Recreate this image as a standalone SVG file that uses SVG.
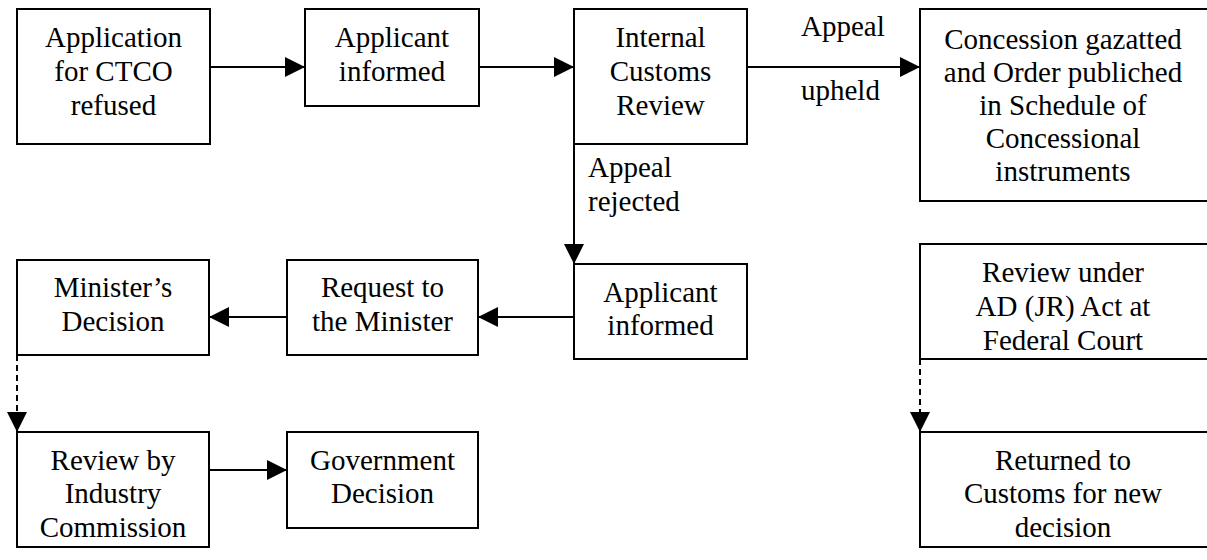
<svg xmlns="http://www.w3.org/2000/svg" width="1207" height="560" viewBox="0 0 1207 560">
<style>
.box{fill:#fff;stroke:#000;stroke-width:2}
text{font-family:'Liberation Serif','Times New Roman',Tinos,'DejaVu Serif',serif;font-size:29px;fill:#000}
.t{text-anchor:middle}
.c{fill:none;stroke:#000;stroke-width:2}
.d{stroke-dasharray:6 4}
</style>
<defs>
<marker id="ah" markerUnits="userSpaceOnUse" markerWidth="21" markerHeight="20" refX="20" refY="10" orient="auto">
<path d="M0,0 L20,10 L0,20 Z" fill="#000"/>
</marker>
</defs>
<rect width="1207" height="560" fill="#fff"/>
<g id="connectors">
<line class="c" x1="210" y1="67" x2="305" y2="67" marker-end="url(#ah)"/>
<line class="c" x1="479" y1="67" x2="574" y2="67" marker-end="url(#ah)"/>
<line class="c" x1="747" y1="67" x2="920" y2="67" marker-end="url(#ah)"/>
<line class="c" x1="574" y1="130" x2="574" y2="264" marker-end="url(#ah)"/>
<line class="c" x1="574" y1="317" x2="478" y2="317" marker-end="url(#ah)"/>
<line class="c" x1="287" y1="317" x2="209" y2="317" marker-end="url(#ah)"/>
<line class="c d" x1="17" y1="355" x2="17" y2="432" marker-end="url(#ah)"/>
<line class="c" x1="209" y1="470" x2="287" y2="470" marker-end="url(#ah)"/>
<line class="c d" x1="920" y1="359" x2="920" y2="432" marker-end="url(#ah)"/>
<text x="801" y="36">Appeal</text>
<text x="801" y="100">upheld</text>
<text x="588" y="177">Appeal</text>
<text x="588" y="211">rejected</text>
</g>
<g id="n1">
<rect class="box" x="17" y="9" width="193" height="135"/>
<text class="t" x="113.5" y="47">Application</text>
<text class="t" x="113.5" y="81">for CTCO</text>
<text class="t" x="113.5" y="115">refused</text>
</g>
<g id="n2">
<rect class="box" x="305" y="9" width="174" height="97"/>
<text class="t" x="392" y="47">Applicant</text>
<text class="t" x="392" y="81">informed</text>
</g>
<g id="n3">
<rect class="box" x="574" y="9" width="173" height="135"/>
<text class="t" x="660.5" y="47">Internal</text>
<text class="t" x="660.5" y="81">Customs</text>
<text class="t" x="660.5" y="115">Review</text>
</g>
<g id="n4">
<rect class="box" x="920" y="9" width="290" height="192"/>
<text class="t" x="1063" y="49">Concession gazatted</text>
<text class="t" x="1063" y="82">and Order publiched</text>
<text class="t" x="1063" y="115">in Schedule of</text>
<text class="t" x="1063" y="148">Concessional</text>
<text class="t" x="1063" y="181">instruments</text>
</g>
<g id="n5">
<rect class="box" x="574" y="264" width="173" height="95"/>
<text class="t" x="660.5" y="302">Applicant</text>
<text class="t" x="660.5" y="335">informed</text>
</g>
<g id="n6">
<rect class="box" x="287" y="260" width="191" height="95"/>
<text class="t" x="382.5" y="297">Request to</text>
<text class="t" x="382.5" y="331">the Minister</text>
</g>
<g id="n7">
<rect class="box" x="17" y="260" width="192" height="95"/>
<text class="t" x="113" y="297">Minister’s</text>
<text class="t" x="113" y="331">Decision</text>
</g>
<g id="n8">
<rect class="box" x="920" y="244" width="290" height="115"/>
<text class="t" x="1063" y="282">Review under</text>
<text class="t" x="1063" y="316">AD (JR) Act at</text>
<text class="t" x="1063" y="350">Federal Court</text>
</g>
<g id="n9">
<rect class="box" x="17" y="432" width="192" height="115"/>
<text class="t" x="113" y="470">Review by</text>
<text class="t" x="113" y="503">Industry</text>
<text class="t" x="113" y="537">Commission</text>
</g>
<g id="n10">
<rect class="box" x="287" y="432" width="191" height="96"/>
<text class="t" x="382.5" y="470">Government</text>
<text class="t" x="382.5" y="503">Decision</text>
</g>
<g id="n11">
<rect class="box" x="920" y="432" width="290" height="115"/>
<text class="t" x="1063" y="470">Returned to</text>
<text class="t" x="1063" y="503">Customs for new</text>
<text class="t" x="1063" y="537">decision</text>
</g>
</svg>
